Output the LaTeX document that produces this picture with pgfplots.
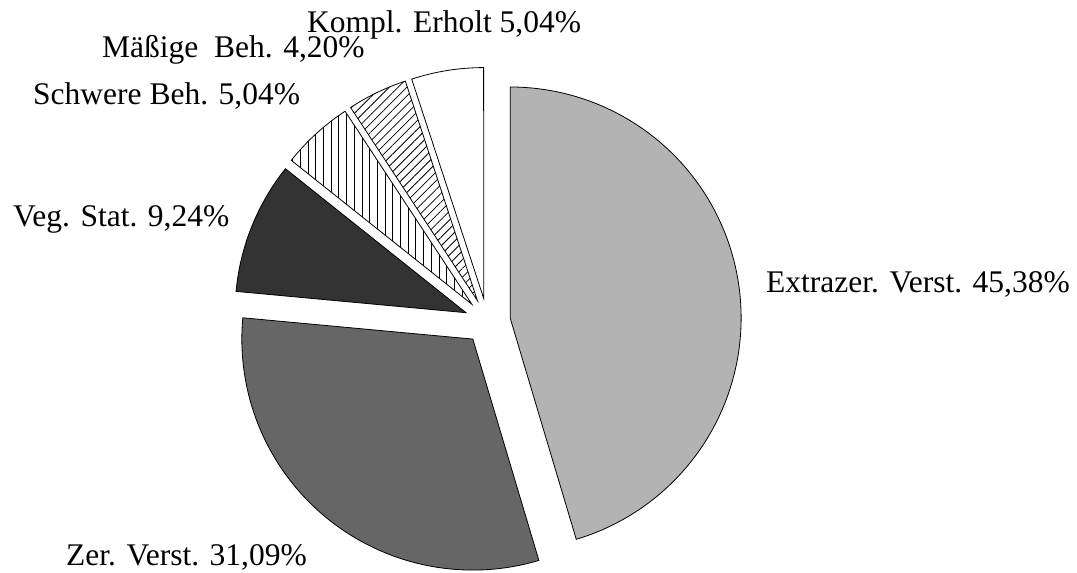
\documentclass[border=0pt]{standalone}
\usepackage{fontspec}
\setmainfont{Liberation Serif}
\usepackage{pgfplots}
\pgfplotsset{compat=1.18}
\usetikzlibrary{patterns.meta}

\definecolor{sliceA}{HTML}{B3B3B3}
\definecolor{sliceB}{HTML}{666666}
\definecolor{sliceC}{HTML}{333333}

% pie centre, radius and explosion offset (axis units = pt)
\def\piecx{487.4}
\def\piecy{251.7}
\def\pier{231}
\def\pied{23}
\gdef\cum{0}

% one exploded slice: #1 = share in percent, #2 = style
\newcommand\pieslice[2]{%
  \pgfmathsetmacro\sa{90-3.6*\cum}%
  \pgfmathsetmacro\sb{90-3.6*(\cum+#1)}%
  \pgfmathsetmacro\sm{(\sa+\sb)/2}%
  \pgfmathsetmacro\tx{\piecx+\pied*cos(\sm)}%
  \pgfmathsetmacro\ty{\piecy+\pied*sin(\sm)}%
  \edef\doslice{\noexpand\addplot[\unexpanded{#2}, draw=black, line width=0.8pt,
      domain=\sb:\sa, samples=90, variable=\noexpand\t]
      ({\tx+\pier*cos(\noexpand\t)}, {\ty+\pier*sin(\noexpand\t)})
      -- (axis cs:\tx,\ty) -- cycle;}%
  \doslice
  \pgfmathsetmacro\newcum{\cum+#1}%
  \xdef\cum{\newcum}%
}

\tikzset{lbl/.style={font=\fontsize{31.5}{38}\selectfont, inner sep=0pt, anchor=base west}}

\begin{document}
\begin{tikzpicture}
\begin{axis}[
  x=1pt, y=1pt,
  xmin=0, xmax=1077, ymin=0, ymax=573,
  hide axis, clip=false,
]
\pieslice{45.38}{fill=sliceA}
\pieslice{31.09}{fill=sliceB}
\pieslice{9.24}{fill=sliceC}
\pieslice{5.04}{pattern={Lines[angle=90,distance=7.7pt,line width=0.8pt]}}
\pieslice{4.20}{pattern={Lines[angle=45,distance=6.2pt,line width=0.8pt]}}
\pieslice{5.04}{fill=white}

\node[lbl] at (axis cs:766,280) {Extrazer. Verst. 45,38\%};
\node[lbl] at (axis cs:66,7) {Zer. Verst. 31,09\%};
\node[lbl] at (axis cs:13,346) {Veg. Stat. 9,24\%};
\node[lbl] at (axis cs:33,468) {Schwere Beh. 5,04\%};
\node[lbl] at (axis cs:102,515) {Mäßige~ Beh. 4,20\%};
\node[lbl] at (axis cs:307,540) {Kompl. Erholt 5,04\%};
\end{axis}
\pgfresetboundingbox
\path (current axis.south west) rectangle (current axis.north east);
\end{tikzpicture}
\end{document}
